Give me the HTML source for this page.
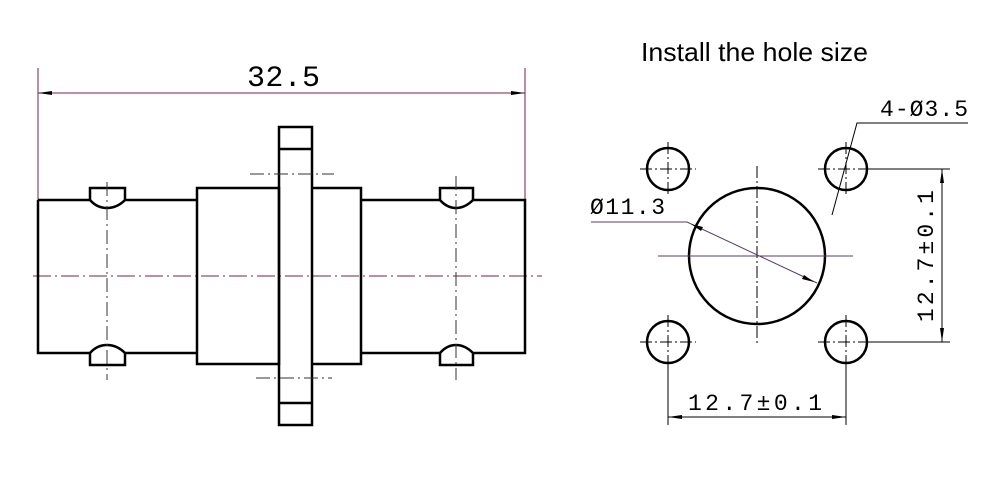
<!DOCTYPE html>
<html><head><meta charset="utf-8"><style>body{margin:0;background:#fff}svg{display:block}</style></head><body>
<svg width="1000" height="479" viewBox="0 0 1000 479" xmlns="http://www.w3.org/2000/svg">
<rect width="1000" height="479" fill="#fff"/>
<text x="641" y="61" font-family="Liberation Sans, sans-serif" font-size="26" fill="#000" textLength="227" lengthAdjust="spacingAndGlyphs">Install the hole size</text>
<g fill="none" stroke="#000">
<line x1="38" y1="68" x2="38" y2="200" stroke="#7a1f4a" stroke-width="1"/>
<line x1="525" y1="68" x2="525" y2="200" stroke="#7a1f4a" stroke-width="1"/>
<line x1="38" y1="93" x2="525" y2="93" stroke="#7a1f4a" stroke-width="1"/>
<path d="M38,93 l14,-2 v4z M525,93 l-14,-2 v4z" fill="#000" stroke="none"/>
<line x1="33" y1="276" x2="542" y2="276" stroke="#7a1f4a" stroke-width="1" stroke-dasharray="18,4,2,4"/>
<g stroke-width="2.5">
<path d="M38,200 H90 M125,200 H197 M38,200 V353 H90 M125,353 H197"/>
<path d="M90,200 V188 H125 V200 Q117,208 107,208 Q97,208 90,200"/>
<path d="M90,353 V365 H125 V353 Q117,345 107,345 Q97,345 90,353"/>
<rect x="197" y="188" width="82" height="176"/>
<path d="M312,188 H361 V364 H312"/>
<rect x="279" y="127" width="33" height="298"/>
<line x1="279" y1="149" x2="312" y2="149"/>
<line x1="279" y1="403" x2="312" y2="403"/>
<path d="M361,200 H440 M473,200 H525 V353 H473 M440,353 H361"/>
<path d="M440,200 V188 H473 V200 Q465,208 456,208 Q447,208 440,200"/>
<path d="M440,353 V365 H473 V353 Q465,345 456,345 Q447,345 440,353"/>
</g>
<g stroke-width="1" stroke="#333" stroke-dasharray="14,4,2,4">
<line x1="107" y1="182" x2="107" y2="380"/>
<line x1="456" y1="176" x2="456" y2="380"/>
<line x1="250" y1="174" x2="334" y2="174"/>
<line x1="256" y1="378" x2="332" y2="378"/>
</g>
</g>
<text x="247" y="86" font-family="Liberation Mono, monospace" font-size="30" fill="#000" textLength="73">32.5</text>
<g fill="none" stroke="#000">
<g stroke-width="2.5">
<circle cx="668" cy="169" r="21"/><circle cx="846" cy="169" r="21"/>
<circle cx="668" cy="342" r="21"/><circle cx="846" cy="342" r="21"/>
<circle cx="757" cy="256" r="68"/>
</g>
<g stroke-width="1" stroke-dasharray="12,3,2,3">
<line x1="640" y1="169" x2="696" y2="169"/><line x1="668" y1="142" x2="668" y2="196"/>
<line x1="818" y1="169" x2="874" y2="169"/><line x1="846" y1="142" x2="846" y2="196"/>
<line x1="640" y1="342" x2="696" y2="342"/><line x1="668" y1="315" x2="668" y2="369"/>
<line x1="818" y1="342" x2="874" y2="342"/><line x1="846" y1="315" x2="846" y2="369"/>
<line x1="757" y1="166" x2="757" y2="346"/>
</g>
<line x1="658" y1="256" x2="853" y2="256" stroke="#5a3b6b" stroke-width="1"/>
<g stroke-width="1">
<line x1="867" y1="169" x2="950" y2="169"/>
<line x1="867" y1="342" x2="950" y2="342"/>
<line x1="942" y1="169" x2="942" y2="342"/>
<line x1="668" y1="363" x2="668" y2="425"/>
<line x1="846" y1="363" x2="846" y2="425"/>
<line x1="668" y1="417" x2="846" y2="417"/>
<path d="M591,222 H687 L817,283" stroke="#5a3b6b"/>
<path d="M968,123 H857 L832,215"/>
</g>
<path d="M942,169 l-2,14 h4z M942,342 l-2,-14 h4z M668,417 l14,-2 v4z M846,417 l-14,-2 v4z M691,224 l12,3 -2,4z M814,282 l-12,-3 2,-4z" fill="#000" stroke="none"/>
</g>
<g font-family="Liberation Mono, monospace" font-size="23" fill="#000">
<text x="590" y="214" textLength="75">Ø11.3</text>
<text x="880" y="116" textLength="88">4-Ø3.5</text>
<text x="688" y="410" textLength="134">12.7±0.1</text>
<text transform="translate(933,322) rotate(-90)" textLength="132">12.7±0.1</text>
</g>
</svg>
</body></html>
